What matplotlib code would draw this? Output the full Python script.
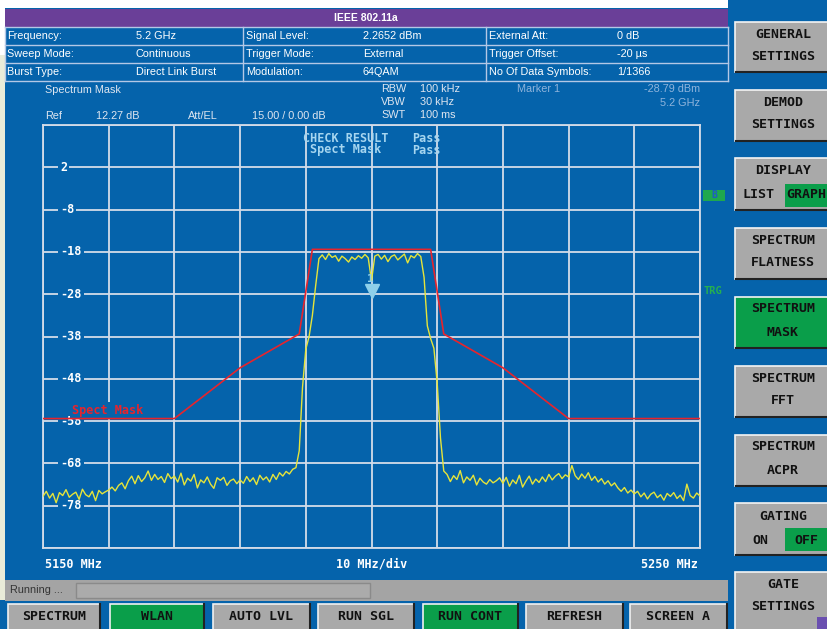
import numpy as np
import matplotlib
matplotlib.use("Agg")
import matplotlib.pyplot as plt
from matplotlib.patches import Rectangle
from matplotlib.transforms import offset_copy

# --- messdaten (sweep 5150..5250 MHz, 0.5 MHz schritt) ---
f_start, f_stop = 5150, 5250
ref_top, ref_bottom = 12, -88
trace_dbm = [
    # 5150 - 5159.5
    -75.8, -74.6, -76.2, -75.1, -77.3, -74.9, -75.6, -74.2, -76.0, -75.3,
    -74.8, -76.5, -74.1, -75.4, -75.9, -74.6, -76.8, -74.4, -75.2, -74.7,
    # 5160 - 5169.5
    -74.3, -73.6, -74.5, -73.2, -72.6, -74.0, -72.1, -71.0, -72.8, -70.9,
    -72.3, -71.4, -69.8, -72.0, -70.6, -71.8, -71.1, -72.5, -70.4, -71.6,
    # 5170 - 5179.5
    -71.0, -72.4, -70.3, -73.1, -71.5, -72.2, -70.6, -73.8, -71.9, -72.6,
    -71.2, -72.9, -73.9, -71.4, -72.0, -71.3, -73.2, -72.1, -71.7, -72.8,
    # 5180 - 5189.5
    -71.9, -72.7, -71.1, -72.3, -71.4, -73.0, -70.8, -71.9, -71.2, -72.4,
    -70.6, -71.8, -70.2, -71.0, -69.9, -70.5, -69.4, -69.0, -65.0, -50.0,
    # 5190 - 5199.5
    -41.0, -38.0, -33.0, -26.0, -19.6, -18.7, -19.8, -18.4, -19.3, -18.9,
    -20.2, -19.0, -19.6, -20.4, -19.2, -19.8, -18.9, -19.5, -18.6, -19.4,
    # 5200 - 5209.5
    -24.8, -19.0, -18.6, -19.7, -18.8, -20.3, -19.1, -18.7, -19.9, -19.2,
    -18.5, -20.6, -18.9, -19.4, -18.4, -19.1, -24.0, -35.5, -38.5, -40.8,
    # 5210 - 5219.5
    -49.0, -62.0, -69.8, -70.6, -72.3, -70.9, -71.8, -69.7, -72.6, -71.2,
    -72.0, -70.8, -73.1, -71.5, -72.4, -72.9, -71.8, -72.6, -72.1, -71.4,
    # 5220 - 5229.5
    -72.7, -71.3, -73.4, -71.9, -72.8, -70.8, -73.6, -72.2, -71.0, -72.9,
    -71.7, -72.5, -71.2, -72.3, -70.6, -71.9, -71.0, -70.4, -71.6, -70.7,
    # 5230 - 5239.5
    -71.2, -68.5, -70.9, -71.8, -70.5, -71.5, -70.2, -72.0, -71.1, -72.4,
    -71.6, -72.9, -72.1, -73.3, -72.6, -73.8, -74.6, -73.7, -75.0, -74.3,
    # 5240 - 5250
    -75.2, -74.6, -75.9, -75.0, -76.4, -75.3, -74.8, -76.1, -75.4, -76.7,
    -75.1, -75.8, -74.9, -76.3, -75.5, -76.8, -72.9, -75.6, -76.2, -75.0,
    -75.7,
]
trace_mhz = np.linspace(f_start, f_stop, len(trace_dbm))

mask_mhz = [5150, 5170, 5180, 5189, 5191, 5209, 5211, 5220, 5230, 5250]
mask_dbm = [-57.4, -57.4, -45.4, -37.4, -17.4, -17.4, -37.4, -45.4, -57.4, -57.4]

marker_mhz = 5200
marker_dbm = -28.79

ytick_vals = [2, -8, -18, -28, -38, -48, -58, -68, -78]

info_rows = [
    ["Frequency:", "5.2 GHz", "Signal Level:", "2.2652 dBm", "External Att:", "0 dB"],
    ["Sweep Mode:", "Continuous", "Trigger Mode:", "External", "Trigger Offset:", "-20 \u00b5s"],
    ["Burst Type:", "Direct Link Burst", "Modulation:", "64QAM", "No Of Data Symbols:", "1/1366"],
]

side_buttons = [
    (22, 72, ["GENERAL", "SETTINGS"], False),
    (90, 141, ["DEMOD", "SETTINGS"], False),
    (158, 210, None, False),          # DISPLAY LIST/GRAPH
    (228, 279, ["SPECTRUM", "FLATNESS"], False),
    (297, 348, ["SPECTRUM", "MASK"], True),
    (366, 417, ["SPECTRUM", "FFT"], False),
    (435, 486, ["SPECTRUM", "ACPR"], False),
    (503, 555, None, False),          # GATING ON/OFF
    (572, 640, ["GATE", "SETTINGS"], False),
]

bottom_buttons = [
    (8, 100, "SPECTRUM", False),
    (110, 204, "WLAN", True),
    (213, 310, "AUTO LVL", False),
    (318, 414, "RUN SGL", False),
    (423, 518, "RUN CONT", True),
    (526, 623, "REFRESH", False),
    (630, 727, "SCREEN A", False),
]

# farben
BLUE = '#0563ab'
PURPLE = '#6a3f98'
GRAY = '#a9a9a9'
GREEN = '#0a9e4a'
LINE = '#b4c8e6'
GRID = '#d4dce8'
MONO = 'DejaVu Sans Mono'
SANS = 'Liberation Sans'

W, H = 828, 629
fig = plt.figure(figsize=(8.28, 6.29), dpi=100)
fig.patch.set_facecolor('white')

bg = fig.add_axes([0, 0, 1, 1], label='bg')
bg.set_xlim(0, W)
bg.set_ylim(H, 0)
bg.axis('off')


def rect(a, x0, y0, x1, y1, fc, ec='none', lw=0, z=1):
    a.add_patch(Rectangle((x0, y0), x1 - x0, y1 - y0, facecolor=fc,
                          edgecolor=ec, linewidth=lw, zorder=z))


# hintergrund
rect(bg, 5, 8, W, H, BLUE)
rect(bg, 728, 0, W, 8, BLUE)
rect(bg, 0, 600, 5, H, BLUE)
rect(bg, 0, 55, 5, 600, '#e9ecd9')

# titelleiste
rect(bg, 5, 9, 728, 27, PURPLE)
bg.text(366, 18, "IEEE 802.11a", color='white', fontsize=7.5, fontweight='bold',
        family=SANS, ha='center', va='center')

# info tabelle
row_y = [27, 45, 63, 81]
col_x = [5, 243, 486, 728]
for y in row_y:
    bg.plot([5, 728], [y, y], color=LINE, lw=1)
for x in col_x:
    bg.plot([x, x], [27, 81], color=LINE, lw=1)
text_x = [7, 136, 246, 363, 489, 617]
for i, row in enumerate(info_rows):
    yc = (row_y[i] + row_y[i + 1]) / 2
    for tx, s in zip(text_x, row):
        bg.text(tx, yc, s, color='white', fontsize=7.8, family=SANS, va='center')

# messparameter
LT = '#dfe6f0'
MK = '#8fb4dc'
bg.text(45, 90, "Spectrum Mask", color=LT, fontsize=7.8, family=SANS, va='center')
bg.text(45, 116, "Ref", color=LT, fontsize=7.8, family=SANS, va='center')
bg.text(96, 116, "12.27 dB", color=LT, fontsize=7.8, family=SANS, va='center')
bg.text(188, 116, "Att/EL", color=LT, fontsize=7.8, family=SANS, va='center')
bg.text(252, 116, "15.00 / 0.00 dB", color=LT, fontsize=7.8, family=SANS, va='center')
for yy, a, b in [(89, "RBW", "100 kHz"), (102, "VBW", "30 kHz"), (115, "SWT", "100 ms")]:
    bg.text(381, yy, a, color=LT, fontsize=7.8, family=SANS, va='center')
    bg.text(420, yy, b, color=LT, fontsize=7.8, family=SANS, va='center')
bg.text(517, 89, "Marker 1", color=MK, fontsize=7.8, family=SANS, va='center')
bg.text(700, 89, f"{marker_dbm:.2f} dBm", color=MK, fontsize=7.8, family=SANS,
        va='center', ha='right')
bg.text(700, 103, f"{marker_mhz / 1000:.1f} GHz", color=MK, fontsize=7.8, family=SANS,
        va='center', ha='right')

# achsenbeschriftung unten
bg.text(45, 564, f"{f_start} MHz", color='white', fontsize=8.5, fontweight='bold',
        family=MONO, va='center')
bg.text(372, 564, "10 MHz/div", color='white', fontsize=8.5, fontweight='bold',
        family=MONO, va='center', ha='center')
bg.text(698, 564, f"{f_stop} MHz", color='white', fontsize=8.5, fontweight='bold',
        family=MONO, va='center', ha='right')

# statusleiste
rect(bg, 5, 580, 728, 601, '#a4a4a4')
rect(bg, 76, 583, 370, 598, '#ababab', ec='#8a8a8a', lw=1)
bg.text(10, 590, "Running ...", color='#333333', fontsize=7.8, family=SANS, va='center')

# untere tasten
for x0, x1, lab, on in bottom_buttons:
    rect(bg, x0, 604, x1, 632, GREEN if on else GRAY, ec='#f0f0f0', lw=1.2)
    bg.plot([x1, x1], [604, 629], color='#222222', lw=1.5)
    bg.text((x0 + x1) / 2, 617, lab, color='#111111', fontsize=9.5, fontweight='bold',
            family=MONO, ha='center', va='center')

# seitliche tasten
for y0, y1, lines, on in side_buttons:
    rect(bg, 735, y0, 832, y1, GREEN if on else GRAY, ec='#f4f4f4', lw=1.2)
    bg.plot([736, 830], [y1, y1], color='#222222', lw=1.5)
    if lines:
        bg.text(783, y0 + 12, lines[0], color='#111111', fontsize=9.5, fontweight='bold',
                family=MONO, ha='center', va='center')
        bg.text(783, y0 + 35, lines[1], color='#111111', fontsize=9.5, fontweight='bold',
                family=MONO, ha='center', va='center')
# display list/graph
bg.text(783, 171, "DISPLAY", color='#111111', fontsize=9.5, fontweight='bold',
        family=MONO, ha='center', va='center')
bg.text(743, 195, "LIST", color='#111111', fontsize=9.5, fontweight='bold',
        family=MONO, va='center')
rect(bg, 785, 184, W, 207, GREEN, z=2)
bg.text(786, 195, "GRAPH", color='#111111', fontsize=9.5, fontweight='bold',
        family=MONO, va='center', zorder=3)
# gating on/off
bg.text(783, 516, "GATING", color='#111111', fontsize=9.5, fontweight='bold',
        family=MONO, ha='center', va='center')
bg.text(752, 540, "ON", color='#111111', fontsize=9.5, fontweight='bold',
        family=MONO, va='center')
rect(bg, 785, 528, W, 551, GREEN, z=2)
bg.text(806, 540, "OFF", color='#111111', fontsize=9.5, fontweight='bold',
        family=MONO, ha='center', va='center', zorder=3)
rect(bg, 817, 617, W, H, '#6a4fb0', z=3)

# B / TRG anzeige
rect(bg, 703, 190, 725, 201, '#1fa84e')
bg.text(714, 195.5, "B", color='#1d5fbf', fontsize=7, fontweight='bold',
        family=MONO, ha='center', va='center')
bg.text(704, 291, "TRG", color='#25b050', fontsize=7.5, fontweight='bold',
        family=MONO, va='center')

# --- spektrum diagramm ---
ax = fig.add_axes([43 / W, 1 - 548 / H, 657 / W, 423 / H], zorder=2)
ax.set_facecolor(BLUE)
ax.set_xlim(f_start, f_stop)
ax.set_ylim(ref_bottom, ref_top)
ax.set_xticks(np.arange(f_start, f_stop + 1, 10))
ax.set_yticks(np.arange(ref_bottom, ref_top + 1, 10))
ax.grid(True, color=GRID, lw=1.3)
ax.set_axisbelow(True)
ax.tick_params(length=0, labelleft=False, labelbottom=False)
for sp in ax.spines.values():
    sp.set_color(GRID)
    sp.set_linewidth(1.3)

ax.plot(mask_mhz, mask_dbm, color='#e8242c', lw=1.2, zorder=4)
ax.plot(trace_mhz, trace_dbm, color='#e6e43a', lw=1.0, zorder=5)

for v in ytick_vals:
    ax.text(0.026, v, str(v), transform=ax.get_yaxis_transform(), color='white',
            fontsize=8.5, fontweight='bold', family=MONO, va='center', ha='left',
            bbox=dict(facecolor=BLUE, edgecolor='none', pad=1.5), zorder=3)

ax.text(5154.4, -55.4, "Spect Mask", color='#e8242c', fontsize=8.5, fontweight='bold',
        family=MONO, va='center', bbox=dict(facecolor=BLUE, edgecolor='none', pad=1.0),
        zorder=3)

# marker
ax.plot(marker_mhz, marker_dbm, marker='v', ms=10, color='#8ed0ea', zorder=6,
        transform=offset_copy(ax.transData, fig=fig, y=5, units='points'))
ax.annotate("1", (marker_mhz, marker_dbm), xytext=(-1, 13.5), textcoords='offset points',
            color='#8ed0ea', fontsize=8, fontweight='bold', family=MONO,
            ha='center', va='center', zorder=6)

# check result
CR = '#a6d6f0'
ax.text(303, 138, "CHECK RESULT", transform=bg.transData, color=CR, fontsize=8.5,
        fontweight='bold', family=MONO, va='center')
ax.text(412, 138, "Pass", transform=bg.transData, color=CR, fontsize=8.5,
        fontweight='bold', family=MONO, va='center')
ax.text(310, 150, "Spect Mask", transform=bg.transData, color=CR, fontsize=8.5,
        fontweight='bold', family=MONO, va='center')
ax.text(412, 150, "Pass", transform=bg.transData, color=CR, fontsize=8.5,
        fontweight='bold', family=MONO, va='center')

fig.savefig("out.png", dpi=100)
